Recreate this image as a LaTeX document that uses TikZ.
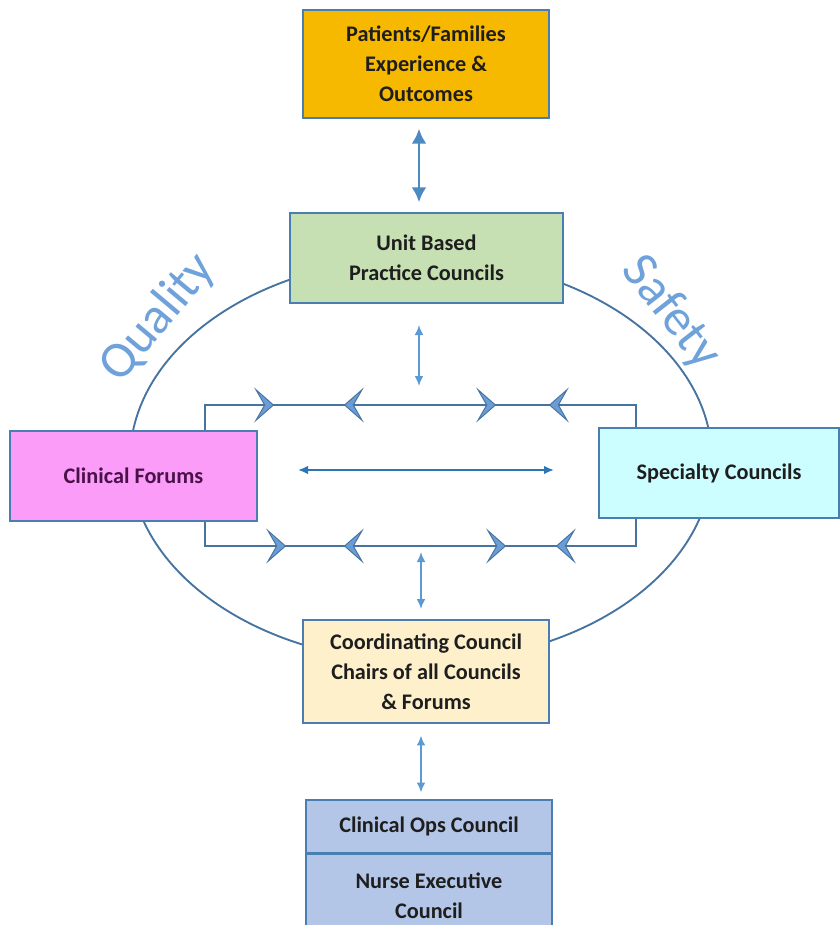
\documentclass[tikz,border=0pt]{standalone}
\usepackage{fontspec}
\setmainfont{Carlito}
\usetikzlibrary{arrows.meta}
\definecolor{goldbox}{HTML}{F7B800}
\definecolor{greenbox}{HTML}{C6E0B4}
\definecolor{pinkbox}{HTML}{FA9CF8}
\definecolor{cyanbox}{HTML}{CCFDFF}
\definecolor{creambox}{HTML}{FDF0CB}
\definecolor{bluebox}{HTML}{B4C6E7}
\definecolor{edgeblue}{HTML}{4A7EB0}
\definecolor{loopblue}{HTML}{46739F}
\definecolor{chevblue}{HTML}{6A9CD6}
\definecolor{arrowblue}{HTML}{5B9BD5}
\definecolor{darkarrow}{HTML}{2E75B6}
\definecolor{wordblue}{HTML}{6FA2DA}
\definecolor{txt}{HTML}{1E1E1E}
\definecolor{plumtxt}{HTML}{4A1248}

\tikzset{
  council/.style={draw=edgeblue, line width=1.2pt, rectangle, align=center, inner sep=0pt,
    text=txt, font=\fontsize{19}{25.5}\selectfont\bfseries},
  link/.style={draw=arrowblue, line width=1.6pt, {Latex[length=3mm,width=2.6mm]}-{Latex[length=3mm,width=2.6mm]}},
  chev/.style={draw=loopblue, line width=1.5pt, -{Stealth[length=6mm,width=10.5mm,inset=3mm,fill=chevblue,line width=0.8pt]}, shorten >=-1pt},
  theme/.style={text=wordblue, font=\fontsize{44}{46}\selectfont}
}

\begin{document}
\begin{tikzpicture}[x=0.3mm, y=-0.3mm]
        \useasboundingbox (0,0) rectangle (839,925);
        % ring and loop behind the boxes
        \draw[loopblue, line width=1.6pt] (421,460) ellipse [x radius=291, y radius=202];
        \draw[loopblue, line width=1.8pt] (205,405) rectangle (636,546);
        % arrowheads on the loop
        \draw[chev] (255,405) -- (273,405);
        \draw[chev] (365,405) -- (345,405);
        \draw[chev] (477,405) -- (495,405);
        \draw[chev] (570,405) -- (550,405);
        \draw[chev] (267,546) -- (285,546);
        \draw[chev] (365,546) -- (345,546);
        \draw[chev] (487,546) -- (505,546);
        \draw[chev] (577,546) -- (557,546);

        % councils
        \node[council, fill=goldbox, minimum width=73.8mm, minimum height=32.4mm] (Patients) at (426,64) {Patients/Families\\Experience \&\\Outcomes};
        \node[council, fill=greenbox, minimum width=81.9mm, minimum height=27mm] (UnitBased) at (426.5,258) {Unit Based\\Practice Councils};
        \node[council, fill=pinkbox, text=plumtxt, minimum width=74.1mm, minimum height=27mm] (Forums) at (133.5,476) {Clinical Forums};
        \node[council, fill=cyanbox, minimum width=72mm, minimum height=27mm] (Specialty) at (719,473) {Specialty Councils};
        \node[council, fill=creambox, minimum width=73.8mm, minimum height=30.9mm] (Coord) at (426,671.5) {Coordinating Council\\Chairs of all Councils\\\& Forums};
        \node[council, fill=bluebox, minimum width=73.8mm, minimum height=15.9mm] (ClinOps) at (429,826.5) {Clinical Ops Council};
        \node[council, fill=bluebox, minimum width=73.8mm, minimum height=24.6mm, anchor=north] (NurseExec) at (ClinOps.south) {Nurse Executive\\Council};

        % themes
        \node[theme, rotate=50] (Quality) at (158,318) {Quality};
        \node[theme, rotate=-52] (Safety) at (671,313) {Safety};

        % links between councils
        \coordinate (UnitLow) at (419,325);
        \coordinate (LoopTop) at (419,386);
        \coordinate (LoopBot) at (421,552);
        \coordinate (CoordTop) at (421,609);
        \coordinate (MidL) at (298,470);
        \coordinate (MidR) at (554,470);
        \draw[link, draw=darkarrow!85, line width=2.4pt, {Latex[length=4.5mm,width=4.5mm]}-{Latex[length=4.5mm,width=4.5mm]}]
            ([yshift=-3mm]Patients.south -| 419,0) -- ([yshift=3mm]UnitBased.north -| 419,0);
        \draw[link, line width=1.3pt] (UnitLow) -- (LoopTop);
        \draw[link, line width=1.3pt] (LoopBot) -- (CoordTop);
        \draw[link, draw=darkarrow, line width=1.6pt] (MidL) -- (MidR);
        \draw[link, line width=2pt] ([yshift=-3.5mm]Coord.south -| 421,0) -- ([yshift=2mm]ClinOps.north -| 421,0);
    \end{tikzpicture}
\end{document}
